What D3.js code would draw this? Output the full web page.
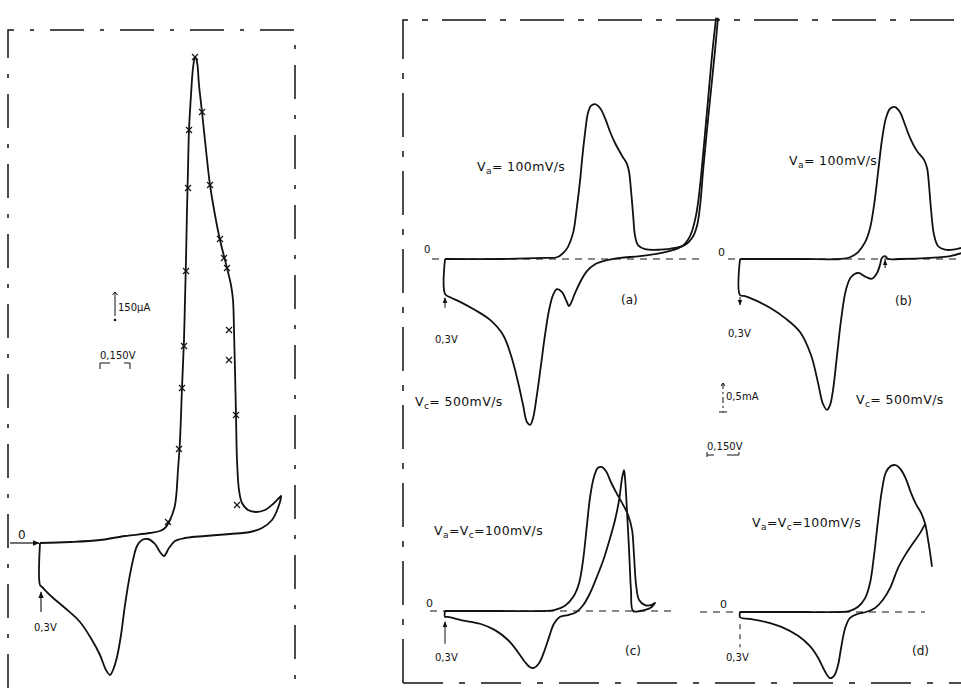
<!DOCTYPE html>
<html>
<head>
<meta charset="utf-8">
<script src="https://cdn.jsdelivr.net/npm/d3@7"></script>
<style>
  body { margin: 0; background: #fff; }
  text { font-family: "DejaVu Sans", "Liberation Sans", sans-serif; fill: #111; }
</style>
</head>
<body>
<script>
// potential in mV, current in µA (left plot) or mA (right plots)

// left plot: 150 µA / 0,150 V scale, anodic peak with measured points (x)
const leftCurve = [[300,0],[450,5],[600,15],[725,35],[850,50],[900,60],[925,75],[950,115],[975,190],[990,365],[1000,515],[1010,775],[1020,1015],[1025,1215],[1030,1415],[1035,1665],[1040,1865],[1045,2065],[1055,2240],[1065,2375],[1075,2430],[1085,2405],[1095,2290],[1110,2155],[1130,1965],[1150,1790],[1175,1640],[1200,1515],[1235,1375],[1255,1290],[1265,1215],[1270,1065],[1275,865],[1280,640],[1285,415],[1295,265],[1310,200],[1340,165],[1380,155],[1425,165],[1465,195],[1495,225],[1505,235],[1490,175],[1460,115],[1410,75],[1350,55],[1250,45],[1125,35],[1025,25],[975,10],[945,-25],[920,-65],[900,-45],[875,-5],[840,20],[810,15],[785,-15],[765,-85],[745,-185],[725,-310],[705,-460],[685,-570],[665,-635],[650,-660],[630,-635],[600,-560],[560,-485],[500,-395],[425,-325],[360,-270],[310,-220],[300,-210],[300,0]];
const leftMarks = [[940,105],[995,470],[1010,775],[1020,985],[1030,1360],[1040,1775],[1045,2065],[1075,2430],[1110,2155],[1150,1790],[1200,1520],[1220,1425],[1235,1375],[1245,1065],[1245,915],[1280,640],[1285,190]];

// (a) Va = 100 mV/s, Vc = 500 mV/s
const aCurve = [[300,0],[559,0],[770,0.02],[826,0.03],[855,0.10],[878,0.21],[902,0.45],[920,0.90],[935,1.36],[944,1.71],[958,2.17],[972,2.52],[986,2.64],[1005,2.67],[1029,2.60],[1052,2.43],[1076,2.19],[1099,2.00],[1132,1.78],[1155,1.64],[1165,1.50],[1174,1.19],[1184,0.76],[1193,0.40],[1207,0.24],[1240,0.17],[1311,0.16],[1381,0.19],[1428,0.24],[1461,0.36],[1484,0.57],[1499,0.93],[1513,1.53],[1531,2.22],[1550,2.91],[1569,3.60],[1583,4.16]];
const aReturn = [[1574,4.16],[1555,3.52],[1536,2.74],[1517,1.97],[1499,1.28],[1480,0.76],[1452,0.40],[1414,0.22],[1334,0.12],[1217,0.05],[1123,0.02],[1061,-0.02],[1005,-0.09],[967,-0.21],[935,-0.40],[911,-0.59],[892,-0.76],[883,-0.81],[869,-0.71],[850,-0.57],[826,-0.52],[808,-0.62],[789,-0.88],[770,-1.31],[751,-1.83],[732,-2.34],[714,-2.74],[700,-2.86],[685,-2.81],[667,-2.52],[643,-2.12],[610,-1.66],[573,-1.31],[512,-1.05],[441,-0.88],[371,-0.74],[324,-0.66],[300,-0.60],[300,0]];

// (b) Va = 100 mV/s, Vc = 500 mV/s
const bCurve = [[300,0],[582,0],[770,0],[817,0.03],[855,0.12],[888,0.29],[911,0.53],[930,0.93],[949,1.50],[967,2.05],[986,2.43],[1005,2.59],[1029,2.62],[1052,2.53],[1076,2.31],[1099,2.09],[1132,1.86],[1165,1.71],[1179,1.57],[1188,1.28],[1198,0.84],[1212,0.41],[1231,0.22],[1264,0.16],[1301,0.16],[1339,0.19]];
const bReturn = [[1339,0.10],[1287,0.05],[1193,0.02],[1052,0],[996,0],[982,0.05],[967,0.02],[958,-0.10],[944,-0.24],[920,-0.34],[892,-0.31],[855,-0.24],[822,-0.31],[798,-0.53],[775,-1.05],[756,-1.66],[737,-2.26],[723,-2.52],[709,-2.60],[690,-2.50],[667,-2.14],[634,-1.66],[582,-1.26],[512,-1.02],[441,-0.84],[371,-0.71],[324,-0.64],[300,-0.62],[300,0]];

// (c) Va = Vc = 100 mV/s
const cCurve = [[300,0],[559,0],[770,0],[817,0.02],[864,0.09],[902,0.24],[930,0.48],[949,0.88],[967,1.48],[982,1.97],[1000,2.31],[1019,2.47],[1038,2.48],[1057,2.41],[1080,2.22],[1108,2.02],[1137,1.83],[1160,1.66],[1179,1.40],[1188,0.97],[1198,0.45],[1212,0.19],[1240,0.10],[1268,0.10],[1287,0.14],[1264,0.05],[1217,0],[1184,0],[1174,0.36],[1165,1.05],[1155,1.74],[1146,2.29],[1141,2.43],[1132,2.29],[1118,1.91],[1099,1.57],[1076,1.26],[1047,0.91],[1014,0.59],[982,0.31],[949,0.10],[916,-0.02],[878,-0.07],[841,-0.10],[812,-0.22],[789,-0.45],[765,-0.71],[742,-0.90],[718,-0.98],[700,-0.97],[676,-0.88],[643,-0.71],[596,-0.50],[535,-0.33],[465,-0.22],[380,-0.16],[314,-0.10],[300,-0.10],[300,0]];

// (d) Va = Vc = 100 mV/s
const dCurve = [[300,0],[582,0],[770,0],[817,0.02],[855,0.09],[888,0.24],[911,0.50],[930,0.98],[949,1.59],[967,2.10],[986,2.41],[1010,2.52],[1033,2.53],[1057,2.45],[1080,2.29],[1104,2.05],[1127,1.86],[1151,1.71],[1170,1.52],[1184,1.24],[1198,0.90],[1202,0.78]];
const dReturn = [[1170,1.52],[1146,1.36],[1108,1.16],[1076,0.98],[1043,0.76],[1005,0.41],[972,0.21],[935,0.07],[892,0],[855,-0.03],[817,-0.10],[794,-0.28],[775,-0.62],[761,-0.91],[742,-1.10],[723,-1.14],[700,-1.03],[667,-0.79],[629,-0.59],[573,-0.41],[497,-0.26],[418,-0.17],[347,-0.12],[300,-0.09],[300,0]];

const width = 961, height = 688;
const ink = "#111";

const svg = d3.select("body").append("svg")
  .attr("width", width)
  .attr("height", height);

svg.append("rect").attr("width", width).attr("height", height).attr("fill", "#fff");

const defs = svg.append("defs");
defs.append("marker")
  .attr("id", "ah")
  .attr("viewBox", "0 0 10 10")
  .attr("refX", 9).attr("refY", 5)
  .attr("markerWidth", 6).attr("markerHeight", 6)
  .attr("orient", "auto")
  .append("path").attr("d", "M0,1L10,5L0,9z").attr("fill", ink);

// dashed frames (scanned figure borders)
const frame = svg.append("g").attr("fill", "none").attr("stroke", ink).attr("stroke-width", 1.5);
frame.append("path").attr("d", "M8,688V30H295V688").attr("stroke-dasharray", "34,16,4,16");
frame.append("path").attr("d", "M403,683V20H961").attr("stroke-dasharray", "44,14,6,14");
frame.append("path").attr("d", "M403,683H961").attr("stroke-dasharray", "40,16,6,16");

function curveLine(x, y) {
  return d3.line()
    .x(d => x(d[0]))
    .y(d => y(d[1]))
    .curve(d3.curveCatmullRom.alpha(0.5));
}

function drawCurve(g, data, x, y) {
  g.append("path")
    .datum(data)
    .attr("fill", "none")
    .attr("stroke", ink)
    .attr("stroke-width", 1.8)
    .attr("stroke-linejoin", "round")
    .attr("d", curveLine(x, y));
}

// label with subscripts: parts = [text, "sub"|"up"|undefined]
function rateLabel(g, x, y, parts) {
  const t = g.append("text").attr("x", x).attr("y", y)
    .attr("font-size", 12.5).attr("letter-spacing", 0.4);
  parts.forEach(p => {
    const s = t.append("tspan").text(p[0]);
    if (p[1] === "sub") s.attr("font-size", 9).attr("dy", 3);
    if (p[1] === "up") s.attr("dy", -3);
  });
}

// ---------- left plot ----------
const xL = d3.scaleLinear().domain([300, 1500]).range([40, 280]);
const yL = d3.scaleLinear().domain([0, 2400]).range([543, 63]);
const gL = svg.append("g");

drawCurve(gL, leftCurve, xL, yL);

gL.selectAll(".mark")
  .data(leftMarks)
  .enter().append("path")
  .attr("class", "mark")
  .attr("transform", d => `translate(${xL(d[0])},${yL(d[1])})`)
  .attr("d", "M-3,-3L3,3M-3,3L3,-3")
  .attr("stroke", ink)
  .attr("stroke-width", 1.2);

// zero arrow + label
gL.append("line")
  .attr("x1", 10).attr("x2", xL(300) - 1)
  .attr("y1", yL(0)).attr("y2", yL(0))
  .attr("stroke", ink).attr("stroke-width", 1.2)
  .attr("marker-end", "url(#ah)");
gL.append("text").attr("x", 18).attr("y", yL(0) - 4).attr("font-size", 12).text("0");

// 0,3V arrow
gL.append("line")
  .attr("x1", xL(300) + 1).attr("x2", xL(300) + 1)
  .attr("y1", yL(-210) + 27).attr("y2", yL(-210) + 7)
  .attr("stroke", ink).attr("stroke-width", 1.1)
  .attr("marker-end", "url(#ah)");
gL.append("text").attr("x", 34).attr("y", 631).attr("font-size", 10).text("0,3V");

// current scale bar: 150 µA
const barTopL = 292;
const barLenL = yL(0) - yL(150);
gL.append("line")
  .attr("x1", 115).attr("x2", 115)
  .attr("y1", barTopL).attr("y2", barTopL + barLenL - 6)
  .attr("stroke", ink).attr("stroke-width", 1);
gL.append("path").attr("d", `M112.5,${barTopL + 3}L115,${barTopL}L117.5,${barTopL + 3}`)
  .attr("fill", "none").attr("stroke", ink);
gL.append("circle").attr("cx", 115).attr("cy", barTopL + barLenL - 2).attr("r", 1.3).attr("fill", ink);
gL.append("text").attr("x", 118).attr("y", 311).attr("font-size", 10).text("150µA");

// potential scale bar: 0,150 V
const barL = [xL(300) + 60, xL(450) + 60];
gL.append("text").attr("x", barL[0]).attr("y", 359).attr("font-size", 10).text("0,150V");
gL.append("path")
  .attr("d", `M${barL[0]},369V363H${barL[0] + 10}M${barL[1] - 6},363H${barL[1]}V369`)
  .attr("fill", "none").attr("stroke", ink).attr("stroke-width", 1);

// ---------- right plots ----------
const kx = 0.2128; // px per mV
const ky = 58;     // px per mA

const panels = [
  { id: "a", curves: [aCurve, aReturn], x0: 445, y0: 259, zero: [432, 700] },
  { id: "b", curves: [bCurve, bReturn], x0: 740, y0: 259, zero: [728, 961] },
  { id: "c", curves: [cCurve],          x0: 445, y0: 611, zero: [430, 672] },
  { id: "d", curves: [dCurve, dReturn], x0: 740, y0: 612, zero: [700, 925] }
];

const scales = {};
panels.forEach(p => {
  const x = d3.scaleLinear().domain([300, 1500]).range([p.x0, p.x0 + 1200 * kx]);
  const y = d3.scaleLinear().domain([0, 1]).range([p.y0, p.y0 - ky]);
  scales[p.id] = { x, y };
  const g = svg.append("g").attr("class", "panel-" + p.id);

  g.append("line")
    .attr("x1", p.zero[0]).attr("x2", p.zero[1])
    .attr("y1", y(0)).attr("y2", y(0))
    .attr("stroke", ink).attr("stroke-width", 1)
    .attr("stroke-dasharray", "7,6");

  p.curves.forEach(c => drawCurve(g, c, x, y));
  p.g = g;
});

// (a)
{
  const { x, y } = scales.a, g = panels[0].g;
  g.append("text").attr("x", 424).attr("y", 253).attr("font-size", 10).attr("fill", "#888").text("0");
  g.append("line").attr("x1", x(300)).attr("x2", x(300)).attr("y1", y(-0.60) + 14).attr("y2", y(-0.60) + 4)
    .attr("stroke", ink).attr("marker-end", "url(#ah)");
  g.append("text").attr("x", 435).attr("y", 343).attr("font-size", 10).text("0,3V");
  rateLabel(g, 477, 171, [["V"], ["a", "sub"], ["= 100mV/s", "up"]]);
  rateLabel(g, 415, 406, [["V"], ["c", "sub"], ["= 500mV/s", "up"]]);
  g.append("text").attr("x", 621).attr("y", 304).attr("font-size", 12).text("(a)");
}

// (b)
{
  const { x, y } = scales.b, g = panels[1].g;
  g.append("text").attr("x", 718).attr("y", 256).attr("font-size", 11).text("0");
  g.append("line").attr("x1", x(300)).attr("x2", x(300)).attr("y1", y(-0.62) + 2).attr("y2", y(-0.62) + 10)
    .attr("stroke", ink).attr("marker-end", "url(#ah)");
  g.append("line").attr("x1", x(982)).attr("x2", x(982)).attr("y1", y(0) + 9).attr("y2", y(0) + 1)
    .attr("stroke", ink).attr("marker-end", "url(#ah)");
  g.append("text").attr("x", 728).attr("y", 337).attr("font-size", 10).text("0,3V");
  rateLabel(g, 789, 165, [["V"], ["a", "sub"], ["= 100mV/s", "up"]]);
  rateLabel(g, 856, 404, [["V"], ["c", "sub"], ["= 500mV/s", "up"]]);
  g.append("text").attr("x", 895).attr("y", 305).attr("font-size", 12).text("(b)");

  // current scale bar: 0,5 mA
  const top = 383, len = y(0) - y(0.5);
  g.append("line").attr("x1", 723).attr("x2", 723).attr("y1", top).attr("y2", top + len)
    .attr("stroke", ink).attr("stroke-width", 1).attr("stroke-dasharray", "6,3,2,3");
  g.append("path").attr("d", `M719,${top + len}H727M721,${top + 3}L723,${top}L725,${top + 3}`)
    .attr("fill", "none").attr("stroke", ink);
  g.append("text").attr("x", 726).attr("y", 400).attr("font-size", 10).text("0,5mA");

  // potential scale bar: 0,150 V
  const bx0 = 707, bx1 = bx0 + (x(450) - x(300));
  g.append("text").attr("x", bx0).attr("y", 450).attr("font-size", 10).text("0,150V");
  g.append("path").attr("d", `M${bx0},452V457M${bx0},455H${bx0 + 7}M${bx1 - 12},455H${bx1}V452`)
    .attr("fill", "none").attr("stroke", ink).attr("stroke-width", 1);
}

// (c)
{
  const { x, y } = scales.c, g = panels[2].g;
  g.append("text").attr("x", 426).attr("y", 607).attr("font-size", 11).text("0");
  g.append("line").attr("x1", x(300)).attr("x2", x(300)).attr("y1", y(-0.10) + 27).attr("y2", y(-0.10) + 5)
    .attr("stroke", ink).attr("marker-end", "url(#ah)");
  g.append("text").attr("x", 435).attr("y", 661).attr("font-size", 10).text("0,3V");
  rateLabel(g, 434, 535, [["V"], ["a", "sub"], ["=V", "up"], ["c", "sub"], ["=100mV/s", "up"]]);
  g.append("text").attr("x", 625).attr("y", 655).attr("font-size", 12).text("(c)");
}

// (d)
{
  const { x, y } = scales.d, g = panels[3].g;
  g.append("text").attr("x", 720).attr("y", 608).attr("font-size", 11).text("0");
  g.append("line").attr("x1", x(300)).attr("x2", x(300)).attr("y1", y(-0.09) + 7).attr("y2", y(-0.09) + 30)
    .attr("stroke", ink).attr("stroke-dasharray", "5,5");
  g.append("text").attr("x", 726).attr("y", 661).attr("font-size", 10).text("0,3V");
  rateLabel(g, 752, 527, [["V"], ["a", "sub"], ["=V", "up"], ["c", "sub"], ["=100mV/s", "up"]]);
  g.append("text").attr("x", 912).attr("y", 655).attr("font-size", 12).text("(d)");
}
</script>
</body>
</html>
